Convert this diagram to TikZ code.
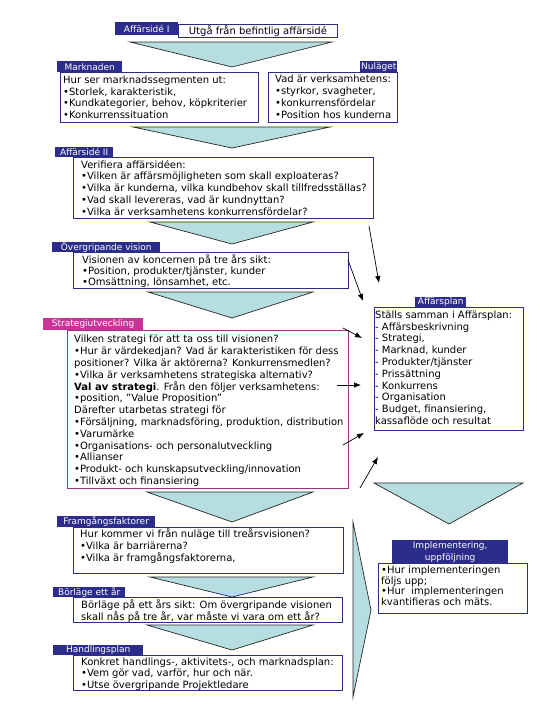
\documentclass[tikz,border=0pt]{standalone}
\usepackage{fontspec}
\setmainfont{DejaVu Sans}
\usetikzlibrary{arrows.meta}
\definecolor{navy}{RGB}{44,44,140}
\definecolor{tri}{RGB}{182,222,224}
\definecolor{mag}{RGB}{204,51,153}
\definecolor{magb}{RGB}{160,50,130}
\begin{document}
\begin{tikzpicture}[x=1pt,y=-1pt,
 lab/.style={fill=navy,text=white,font=\fontsize{9}{10.5}\selectfont,inner sep=0pt,anchor=north west},
 boxx/.style={draw=navy,line width=0.9pt,fill=white,anchor=north west,inner sep=0pt},
 txt/.style={anchor=north west,inner sep=0pt,align=left,font=\fontsize{10}{11.8}\selectfont},
 chev/.style={fill=tri,draw=black!85,line width=0.7pt},
 arr/.style={-{Latex[length=7pt,width=5.5pt]},line width=0.7pt}]
\useasboundingbox (0,0) rectangle (540,720);

% chevrons
\draw[chev] (130,42) -- (332,42) -- (232,67) -- cycle;
\draw[chev] (133,127) -- (330,127) -- (232,148) -- cycle;
\draw[chev] (150,222) -- (313,222) -- (232,244) -- cycle;
\draw[chev] (148,292) -- (313,292) -- (232,318) -- cycle;
\draw[chev] (147,492) -- (313,492) -- (232,522) -- cycle;
\draw[chev] (150,577) -- (313,577) -- (232,597) -- cycle;
\draw[chev] (147,625) -- (313,625) -- (232,650) -- cycle;
\draw[chev] (374,483) -- (523,483) -- (449,524) -- cycle;
\draw[chev] (353,522) -- (371,610) -- (353,697) -- cycle;

% Affärsidé I
\node[boxx,minimum width=159pt,minimum height=13pt,font=\fontsize{10}{11.8}\selectfont] (b1) at (178,24) {Utgå från befintlig affärsidé};
\node[lab,minimum width=63pt,minimum height=13pt] (l1) at (115,22) {Affärsidé I};

% Marknaden
\node[boxx,minimum width=198pt,minimum height=50pt] (b2) at (60,72) {};
\node[lab,minimum width=65pt,minimum height=11pt] (l2) at (57,61) {Marknaden};
\node[txt] (t2) at (63,75.5) {Hur ser marknadssegmenten ut:\\•Storlek, karakteristik,\\•Kundkategorier, behov, köpkriterier\\•Konkurrenssituation};

% Nuläget
\node[boxx,minimum width=129pt,minimum height=50pt] (b3) at (268,72) {};
\node[lab,minimum width=37pt,minimum height=11pt] (l3) at (360,61) {Nuläget};
\node[txt] (t3) at (275,75) {Vad är verksamhetens:\\•styrkor, svagheter,\\•konkurrensfördelar\\•Position hos kunderna};

% Affärsidé II
\node[boxx,minimum width=300pt,minimum height=61pt] (b4) at (73,157) {};
\node[lab,minimum width=58pt,minimum height=10pt] (l4) at (55,147) {Affärsidé II};
\node[txt,font=\fontsize{10}{11.7}\selectfont] (t4) at (81,160) {Verifiera affärsidéen:\\•Vilken är affärsmöjligheten som skall exploateras?\\•Vilka är kunderna, vilka kundbehov skall tillfredsställas?\\•Vad skall levereras, vad är kundnyttan?\\•Vilka är verksamhetens konkurrensfördelar?};

% Övergripande vision
\node[boxx,minimum width=275pt,minimum height=36pt] (b5) at (73,252) {};
\node[lab,minimum width=108pt,minimum height=10pt] (l5) at (52,242) {Övergripande vision};
\node[txt,font=\fontsize{10}{11}\selectfont] (t5) at (82,254.5) {Visionen av koncernen på tre års sikt:\\•Position, produkter/tjänster, kunder\\•Omsättning, lönsamhet, etc.};

% Strategiutveckling
\node[boxx,draw=magb,line width=0.7pt,minimum width=281pt,minimum height=158pt] (b6) at (67,330) {};
\node[lab,fill=mag,minimum width=100pt,minimum height=12pt] (l6) at (43,318) {Strategiutveckling};
\node[txt] (t6) at (74,335) {Vilken strategi för att ta oss till visionen?\\•Hur är värdekedjan? Vad är karakteristiken för dess\\positioner? Vilka är aktörerna? Konkurrensmedlen?\\•Vilka är verksamhetens strategiska alternativ?\\\textbf{Val av strategi}. Från den följer verksamhetens:\\•position, ”Value Proposition”\\Därefter utarbetas strategi för\\•Försäljning, marknadsföring, produktion, distribution\\•Varumärke\\•Organisations- och personalutveckling\\•Allianser\\•Produkt- och kunskapsutveckling/innovation\\•Tillväxt och finansiering};

% Framgångsfaktorer
\node[boxx,minimum width=270pt,minimum height=46pt] (b7) at (73,527) {};
\node[lab,minimum width=98pt,minimum height=11pt] (l7) at (57,516) {Framgångsfaktorer};
\node[txt] (t7) at (80,529) {Hur kommer vi från nuläge till treårsvisionen?\\•Vilka är barriärerna?\\•Vilka är framgångsfaktorerna,};

% Börläge ett år
\node[boxx,minimum width=269pt,minimum height=25pt] (b8) at (73,597) {};
\node[lab,minimum width=72pt,minimum height=10pt] (l8) at (53,587) {Börläge ett år};
\node[txt] (t8) at (81,599.5) {Börläge på ett års sikt: Om övergripande visionen\\skall nås på tre år, var måste vi vara om ett år?};

% Handlingsplan
\node[boxx,minimum width=269pt,minimum height=35pt] (b9) at (73,655) {};
\node[lab,minimum width=90pt,minimum height=10pt] (l9) at (53,645) {Handlingsplan};
\node[txt,font=\fontsize{10}{11.4}\selectfont] (t9) at (81,657.5) {Konkret handlings-, aktivitets-, och marknadsplan:\\•Vem gör vad, varför, hur och när.\\•Utse övergripande Projektledare};

% Affärsplan
\node[boxx,minimum width=149pt,minimum height=123pt] (b10) at (374,307) {};
\node[lab,minimum width=51pt,minimum height=10pt] (l10) at (415,297) {Affärsplan};
\node[txt] (t10) at (375,310.5) {Ställs samman i Affärsplan:\\- Affärsbeskrivning\\- Strategi,\\- Marknad, kunder\\- Produkter/tjänster\\- Prissättning\\- Konkurrens\\- Organisation\\- Budget, finansiering,\\kassaflöde och resultat};

% Implementering
\node[boxx,minimum width=149pt,minimum height=50pt] (b11) at (378,563) {};
\node[lab,minimum width=116pt,minimum height=23pt,align=center,font=\fontsize{9}{12}\selectfont] (l11) at (392,540) {Implementering,\\uppföljning};
\node[txt,font=\fontsize{10}{10.4}\selectfont] (t11) at (381,566) {•Hur implementeringen\\följs upp;\\•Hur\ \ implementeringen\\kvantifieras och mäts.};

% arrows
\coordinate (a1s) at (369,226); \coordinate (a1e) at (379,283);
\coordinate (a2s) at (348,260); \coordinate (a2e) at (363,301);
\coordinate (a3s) at (343,328); \coordinate (a3e) at (362,338);
\coordinate (a4s) at (337,385); \coordinate (a4e) at (361,385);
\coordinate (a5s) at (343,445); \coordinate (a5e) at (364,433);
\coordinate (a6s) at (360,488); \coordinate (a6e) at (378,457);
\draw[arr] (a1s) -- (a1e);
\draw[arr] (a2s) -- (a2e);
\draw[arr] (a3s) -- (a3e);
\draw[arr] (a4s) -- (a4e);
\draw[arr] (a5s) -- (a5e);
\draw[arr] (a6s) -- (a6e);
\end{tikzpicture}
\end{document}
